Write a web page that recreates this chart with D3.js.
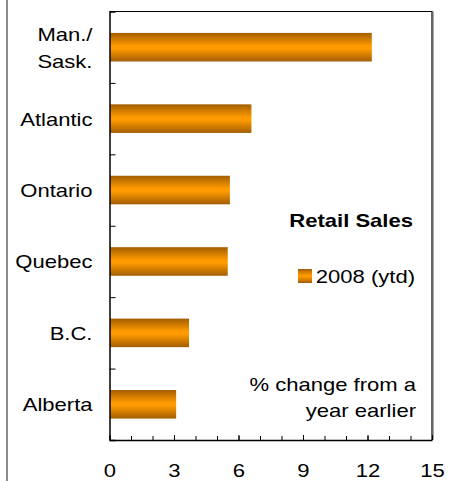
<!DOCTYPE html>
<html>
<head>
<meta charset="utf-8">
<script src="https://cdn.jsdelivr.net/npm/d3@7"></script>
<style>
  body { margin: 0; background: #fff; }
  text { font-family: "Liberation Sans", Arial, sans-serif; fill: #000; }
</style>
</head>
<body>
<div id="chart"></div>
<script>
// data
var regions = ["Man./\nSask.", "Atlantic", "Ontario", "Quebec", "B.C.", "Alberta"];
var sales2008 = [12.2, 6.6, 5.6, 5.5, 3.7, 3.1];
var xTicks = [0, 3, 6, 9, 12, 15];

var svgWidth = 454;
var svgHeight = 481;

var margin = { top: 11.5, right: 22, bottom: 41, left: 109.5 };
var width = 432 - margin.left;
var height = 440 - margin.top;
var stretch = 1.16; // text in the original is a bit wide
var fontSize = "19px";

var svg = d3.select("#chart")
  .append("svg")
  .attr("width", svgWidth)
  .attr("height", svgHeight);

// gray rule on the far left
svg.append("rect")
  .attr("x", 6)
  .attr("y", 0)
  .attr("width", 2)
  .attr("height", svgHeight)
  .attr("fill", "#8c8c8c");

var defs = svg.append("defs");
var grad = defs.append("linearGradient")
  .attr("id", "barGrad")
  .attr("x1", 0).attr("y1", 0).attr("x2", 0).attr("y2", 1);
grad.append("stop").attr("offset", "0%").attr("stop-color", "#a35e00");
grad.append("stop").attr("offset", "45%").attr("stop-color", "#ff9a00");
grad.append("stop").attr("offset", "55%").attr("stop-color", "#ff9a00");
grad.append("stop").attr("offset", "100%").attr("stop-color", "#a35e00");

var chartGroup = svg.append("g")
  .attr("transform", `translate(${margin.left}, ${margin.top})`);

var x = d3.scaleLinear().domain([0, 15]).range([0, width]);
var y = d3.scaleBand()
  .domain(regions)
  .range([0, height])
  .paddingInner(0.6)
  .paddingOuter(0.3);
var yEdge = d3.scaleLinear().domain([0, regions.length]).range([0, height]);

// frame top + right
chartGroup.append("path")
  .attr("d", `M0,0H${width}V${height}`)
  .attr("fill", "none")
  .attr("stroke", "#000")
  .attr("stroke-width", 1.2);
chartGroup.append("line")
  .attr("x1", width + 1.5).attr("x2", width + 1.5)
  .attr("y1", 0).attr("y2", height)
  .attr("stroke", "#aaa")
  .attr("stroke-width", 1);

// bars
chartGroup.selectAll("rect.bar")
  .data(regions)
  .enter()
  .append("rect")
  .attr("class", "bar")
  .attr("x", 0.5)
  .attr("y", d => y(d))
  .attr("width", (d, i) => x(sales2008[i]) - 0.5)
  .attr("height", y.bandwidth())
  .attr("fill", "url(#barGrad)");

// x axis: minor ticks, major ticks, labels
var minorAxis = d3.axisBottom(x)
  .tickValues(d3.range(0, 16))
  .tickSize(-4)
  .tickFormat("");
chartGroup.append("g")
  .attr("transform", `translate(0, ${height})`)
  .call(minorAxis)
  .call(g => g.select(".domain").remove());

var bottomAxis = d3.axisBottom(x)
  .tickValues(xTicks)
  .tickSizeInner(-5)
  .tickSizeOuter(0)
  .tickPadding(0);
var xg = chartGroup.append("g")
  .attr("transform", `translate(0, ${height})`)
  .call(bottomAxis);
xg.select(".domain").attr("stroke", "#000").attr("stroke-width", 1.5);
xg.selectAll(".tick text").remove();
xg.selectAll(".tick")
  .append("text")
  .attr("transform", `translate(0, 37) scale(${stretch}, 1)`)
  .attr("text-anchor", "middle")
  .attr("font-size", fontSize)
  .text(d => d);

// y axis with ticks between categories
var leftAxis = d3.axisRight(yEdge)
  .tickValues(d3.range(1, regions.length))
  .tickSize(6)
  .tickFormat("");
var yg = chartGroup.append("g").call(leftAxis);
yg.select(".domain").attr("stroke", "#000").attr("stroke-width", 1.5);

// category labels
regions.forEach(function(r) {
  var lines = r.split("\n");
  var cy = y(r) + y.bandwidth() / 2;
  var lh = 27;
  lines.forEach(function(line, j) {
    var ty = cy + 7 + (j - (lines.length - 1) / 2) * lh;
    chartGroup.append("text")
      .attr("transform", `translate(-17, ${ty}) scale(${stretch}, 1)`)
      .attr("text-anchor", "end")
      .attr("font-size", fontSize)
      .text(line);
  });
});

// legend
function addText(px, py, str, bold) {
  svg.append("text")
    .attr("transform", `translate(${px}, ${py}) scale(${stretch}, 1)`)
    .attr("text-anchor", "end")
    .attr("font-size", fontSize)
    .attr("font-weight", bold ? "bold" : "normal")
    .text(str);
}
addText(413, 227, "Retail Sales", true);
svg.append("rect")
  .attr("x", 298).attr("y", 269)
  .attr("width", 14).attr("height", 14)
  .attr("fill", "url(#barGrad)");
addText(415, 283, "2008 (ytd)", false);

addText(416, 391, "% change from a", false);
addText(416, 417, "year earlier", false);
</script>
</body>
</html>
